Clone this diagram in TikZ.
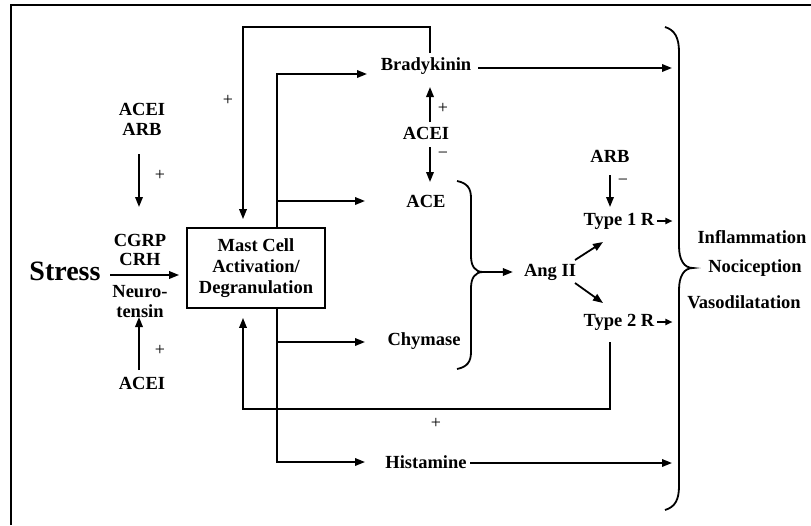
\documentclass[tikz,border=0pt]{standalone}
\usepackage{fontspec}
\setmainfont{Liberation Serif}
\usetikzlibrary{arrows.meta}
\begin{document}
\begin{tikzpicture}[x=1pt,y=-1pt,
  lbl/.style={font=\fontsize{18.5}{21}\selectfont\bfseries, inner sep=0pt},
  sgn/.style={font=\fontsize{18}{20}\selectfont, inner sep=0pt},
  conn/.style={line width=1.8pt},
  arr/.style={conn,-{Triangle[length=10pt,width=7.5pt]}},
  sarr/.style={conn,-{Triangle[length=7pt,width=6pt]}},
  bracepath/.style={line width=1.8pt}]
\useasboundingbox (0,0) rectangle (811,525);
\draw[line width=2.4pt] (11,525) -- (11,5) -- (811,5);

% nodes
\node[lbl, font=\fontsize{28}{30}\selectfont\bfseries] (stress) at (65,271) {Stress};
\node[lbl] (acei1) at (142,109) {ACEI};
\node[lbl] (arb1) at (142,129) {ARB};
\node[lbl] (cgrp) at (140,240) {CGRP};
\node[lbl] (crh) at (140,259) {CRH};
\node[lbl] (neuro) at (140,292) {Neuro-};
\node[lbl] (tensin) at (140,311) {tensin};
\node[lbl] (acei2) at (142,383) {ACEI};
\node[draw, line width=1.8pt, minimum width=138pt, minimum height=80pt, inner sep=0pt,
      lbl, align=center] (mast) at (256,268) {Mast Cell\\Activation/\\Degranulation};
\node[lbl] (brady) at (426,66) {Bradykinin};
\node[lbl] (acei3) at (426,133) {ACEI};
\node[lbl] (ace) at (426,201) {ACE};
\node[lbl] (chym) at (424,341) {Chymase};
\node[lbl] (hist) at (426,462) {Histamine};
\node[lbl] (ang) at (550,272) {Ang II};
\node[lbl] (arb2) at (610,156) {ARB};
\node[lbl] (t1) at (619,221) {Type 1 R};
\node[lbl] (t2) at (619,322) {Type 2 R};
\node[lbl] (infl) at (752,237) {Inflammation};
\node[lbl] (noci) at (755,268) {Nociception};
\node[lbl] (vaso) at (744,302) {Vasodilatation};

% signs
\node[sgn] (p1) at (228,100) {+};
\node[sgn] (p2) at (160,175) {+};
\node[sgn] (p3) at (160,350) {+};
\node[sgn] (p4) at (443,108) {+};
\node[sgn] (m1) at (443,155) {−};
\node[sgn] (m2) at (623,182) {−};
\node[sgn] (p5) at (436,423) {+};

% coordinates
\coordinate (ax) at (243,0);
\coordinate (mx) at (277,0);

% stress -> mast
\coordinate (s1) at (110,275);
\draw[arr, shorten >=7pt] (s1) -- (mast.west |- s1);

% left drug arrows
\coordinate (a1) at (139,154);
\coordinate (a2) at (139,207);
\draw[arr] (a1) -- (a2);
\coordinate (a3) at (139,370);
\coordinate (a4) at (139,317);
\draw[arr] (a3) -- (a4);

% top feedback: bradykinin -> mast
\coordinate (f1) at (430,53);
\draw[arr, shorten >=8pt] (f1) -- (430,27) -- (243,27) -- (mast.north -| ax);

% mast -> bradykinin, ACE
\coordinate (bin) at (367,74);
\draw[arr] (mast.north -| mx) |- (bin);
\coordinate (acein) at (365,201);
\draw[arr] (mx |- acein) -- (acein);

% mast -> chymase, histamine
\coordinate (chin) at (365,342);
\coordinate (hin) at (365,462);
\draw[arr] (mast.south -| mx) |- (hin);
\draw[arr] (mx |- chin) -- (chin);

% outputs to big brace
\coordinate (bo) at (478,68);
\draw[arr] (bo) -- (672,68);
\coordinate (ho) at (470,463);
\draw[arr] (ho) -- (672,463);
\draw[sarr] ([xshift=3pt]t1.east) -- ++(15,0);
\draw[sarr] ([xshift=3pt]t2.east) -- ++(15,0);

% ACEI (middle)
\coordinate (c1) at (430,122);
\coordinate (c2) at (430,87);
\draw[arr] (c1) -- (c2);
\coordinate (c3) at (430,147);
\coordinate (c4) at (430,182);
\draw[arr] (c3) -- (c4);

% ACE/Chymase brace
\draw[bracepath] (457,181) .. controls (467,183) and (471,188) .. (471,198)
  -- (471,256) .. controls (471,266) and (475,272) .. (483,272)
  .. controls (475,272) and (471,278) .. (471,288)
  -- (471,352) .. controls (471,362) and (467,367) .. (457,369);
\coordinate (bp) at (483,272);
\draw[arr, shorten >=11pt] (bp) -- (ang.west);

% Ang II -> receptors
\coordinate (g1) at (575,260);
\coordinate (g2) at (603,242);
\coordinate (g3) at (575,283);
\coordinate (g4) at (603,303);
\draw[arr] (g1) -- (g2);
\draw[arr] (g3) -- (g4);

% ARB -> Type 1 R
\coordinate (r1) at (610,175);
\coordinate (r2) at (610,207);
\draw[arr] (r1) -- (r2);

% Type 2 R feedback to mast
\coordinate (t2b) at (610,342);
\draw[arr, shorten >=9pt] (t2b) -- (610,409) -- (243,409) -- (mast.south -| ax);

% big brace
\draw[bracepath] (665,27) .. controls (675,30) and (679,38) .. (679,52)
  -- (679,246) .. controls (679,260) and (684,268) .. (693,268)
  .. controls (684,268) and (679,276) .. (679,290)
  -- (679,486) .. controls (679,500) and (675,507) .. (665,510);
\end{tikzpicture}
\end{document}
